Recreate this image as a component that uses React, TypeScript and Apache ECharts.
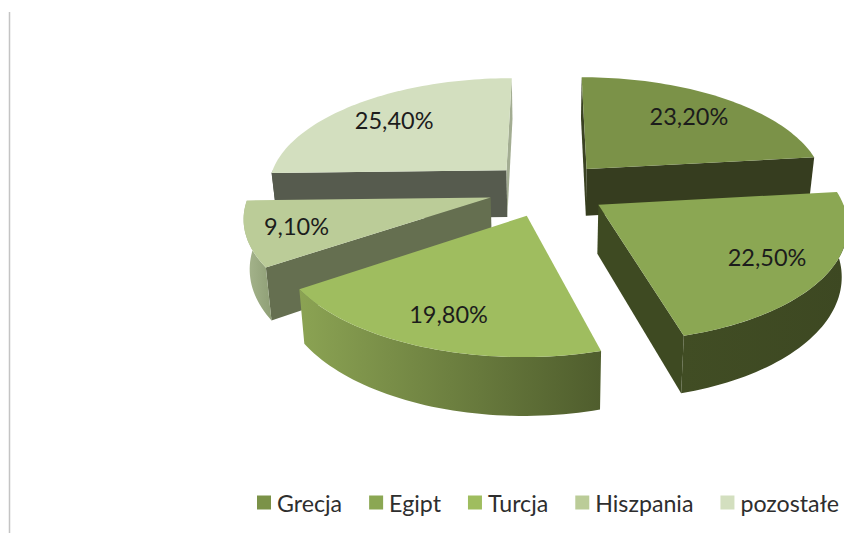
import React, { useEffect, useRef } from "react";
import * as echarts from "echarts";

const categories = ["Grecja", "Egipt", "Turcja", "Hiszpania", "pozostałe"];
const shares = [23.2, 22.5, 19.8, 9.1, 25.4];

// styling, by slice
const topColors = ["#7b9248", "#8ba753", "#9fbd5f", "#bbcc98", "#d3dfbf"];
const startFace = ["#3a4222", "#3e4a22", "#3e4a22", "#656f50", "#565b4e"];
const endFace = ["#363d1f", "#3e4a22", "#556330", "#656f50", "#a3ad92"];
const rimStops = [
  ["#363d1f", "#363d1f"],
  ["#414d24", "#3d4822"],
  ["#8ba353", "#4f5d2d"],
  ["#a8b78f", "#8f9f76"],
  ["#565b4e", "#565b4e"],
];
const labelReach = [0.73, 0.76, 0.78, 0.8, 0.74];
const paintOrder = [4, 0, 3, 1, 2];

const CX = 548;
const CY = 189;
const RADIUS = 240;
const EXPLODE = 59.5;
const TILT = 0.463;
const DEPTH = 1600;
const HEIGHT = 48;
const CONVERGE = 0.98;

const total = shares.reduce((a, b) => a + b, 0);
const rad = (d: number) => (d * Math.PI) / 180;

function topPoint(X: number, Y: number): number[] {
  const s = DEPTH / (DEPTH + Y);
  return [CX + X * s, CY - Y * TILT * s];
}
function bottomPoint(X: number, Y: number): number[] {
  const s = DEPTH / (DEPTH + Y);
  const p = topPoint(X, Y);
  return [CX + (p[0] - CX) * CONVERGE, p[1] + HEIGHT * s];
}
function area(pts: number[][]): number {
  let sum = 0;
  pts.forEach((p, i) => {
    const q = pts[(i + 1) % pts.length];
    sum += p[0] * q[1] - q[0] * p[1];
  });
  return sum;
}

function sliceChildren(i: number, value: number) {
  const before = shares.slice(0, i).reduce((a, b) => a + b, 0);
  const a0 = (before / total) * 360;
  const a1 = a0 + (value / total) * 360;
  const mid = (a0 + a1) / 2;
  const ox = EXPLODE * Math.sin(rad(mid));
  const oy = EXPLODE * Math.cos(rad(mid));
  const rimXY = (a: number) => [ox + RADIUS * Math.sin(rad(a)), oy + RADIUS * Math.cos(rad(a))];
  const T = (xy: number[]) => topPoint(xy[0], xy[1]);
  const B = (xy: number[]) => bottomPoint(xy[0], xy[1]);
  const apex = [ox, oy];
  const children: any[] = [];

  const startPoly = [T(apex), T(rimXY(a0)), B(rimXY(a0)), B(apex)];
  if (area(startPoly) < 0) {
    children.push({ type: "polygon", shape: { points: startPoly }, style: { fill: startFace[i] } });
  }
  const endPoly = [T(apex), T(rimXY(a1)), B(rimXY(a1)), B(apex)];
  if (area(endPoly) > 0) {
    children.push({ type: "polygon", shape: { points: endPoly }, style: { fill: endFace[i] } });
  }

  const r0 = Math.max(a0, 90);
  const r1 = Math.min(a1, 270);
  if (r1 > r0) {
    const upper: number[][] = [];
    const lower: number[][] = [];
    const n = Math.ceil((r1 - r0) / 1.5);
    for (let k = 0; k <= n; k++) {
      const xy = rimXY(r0 + ((r1 - r0) * k) / n);
      upper.push(T(xy));
      lower.unshift(B(xy));
    }
    children.push({
      type: "polygon",
      shape: { points: upper.concat(lower) },
      style: {
        fill: new echarts.graphic.LinearGradient(1, 0, 0, 0, [
          { offset: 0, color: rimStops[i][1] },
          { offset: 1, color: rimStops[i][0] },
        ]),
      },
    });
  }

  const top: number[][] = [T(apex)];
  const m = Math.ceil((a1 - a0) / 1.5);
  for (let k = 0; k <= m; k++) top.push(T(rimXY(a0 + ((a1 - a0) * k) / m)));
  children.push({ type: "polygon", shape: { points: top }, style: { fill: topColors[i] } });

  const r = RADIUS * labelReach[i];
  const lp = topPoint(ox + r * Math.sin(rad(mid)), oy + r * Math.cos(rad(mid)));
  children.push({
    type: "text",
    z2: 10,
    style: {
      text: value.toFixed(2).replace(".", ",") + "%",
      x: lp[0],
      y: lp[1],
      align: "center",
      verticalAlign: "middle",
      fill: "#1c1c1c",
      font: '23.5px Lato, "Open Sans", sans-serif',
    },
  });
  return children;
}

export default function App() {
  const ref = useRef<HTMLDivElement>(null);
  useEffect(() => {
    const chart = echarts.init(ref.current!, undefined, { renderer: "svg" });
    chart.setOption({
      animation: false,
      backgroundColor: "#ffffff",
      legend: {
        data: categories,
        left: 252,
        top: 486,
        width: 640,
        icon: "rect",
        itemWidth: 14,
        itemHeight: 14,
        itemGap: 27,
        selectedMode: false,
        textStyle: { fontFamily: "Lato, sans-serif", fontSize: 23.2, color: "#2e2e2e", padding: [0, 0, 0, 1] },
      },
      graphic: [
        {
          type: "line",
          silent: true,
          shape: { x1: 9.5, y1: 12, x2: 9.5, y2: 533 },
          style: { stroke: "#c4c4c4", lineWidth: 1.5 },
        },
      ],
      series: paintOrder.map((i) => ({
        type: "custom",
        name: categories[i],
        coordinateSystem: "none",
        silent: true,
        itemStyle: { color: topColors[i] },
        data: [[shares[i]]],
        renderItem: (_p: any, api: any) => ({
          type: "group",
          children: sliceChildren(i, api.value(0)),
        }),
      })),
    });
    return () => chart.dispose();
  }, []);
  return <div ref={ref} style={{ position: "fixed", left: 0, top: 0, width: 844, height: 533 }} />;
}
